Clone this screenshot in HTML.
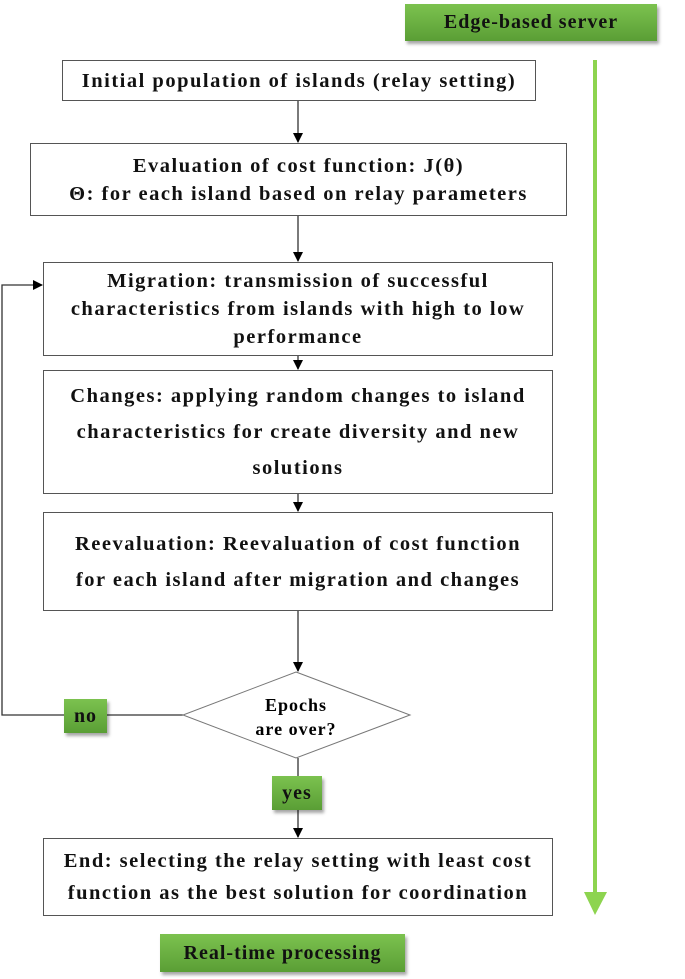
<!DOCTYPE html>
<html><head><style>
body{margin:0;width:685px;height:979px;background:#fff;position:relative;overflow:hidden;font-family:"Liberation Serif",serif;font-weight:bold;color:#111}
.b{position:absolute;border:1px solid #555;background:#fff;display:flex;align-items:center;justify-content:center;text-align:center;font-size:20.5px;letter-spacing:1.5px;line-height:28px;box-sizing:border-box;white-space:nowrap}
.g{position:absolute;background:linear-gradient(#7cc24f,#5a9e35);box-shadow:2px 3px 3px rgba(0,0,0,.35);display:flex;align-items:center;justify-content:center;font-size:20px;letter-spacing:1px;box-sizing:border-box}
</style></head><body>
<svg width="685" height="979" style="position:absolute;left:0;top:0">
<defs><marker id="a" markerWidth="10" markerHeight="10" refX="9" refY="5" orient="auto" markerUnits="userSpaceOnUse"><path d="M0,0L10,5L0,10z" fill="#000"/></marker></defs>
<g stroke="#333" stroke-width="1.3" fill="none">
<line x1="298" y1="100" x2="298" y2="142" marker-end="url(#a)"/>
<line x1="298" y1="215" x2="298" y2="261" marker-end="url(#a)"/>
<line x1="298" y1="355" x2="298" y2="369" marker-end="url(#a)"/>
<line x1="298" y1="493" x2="298" y2="511" marker-end="url(#a)"/>
<line x1="298" y1="610" x2="298" y2="671" marker-end="url(#a)"/>
<line x1="298" y1="758" x2="298" y2="837" marker-end="url(#a)"/>
<polyline points="183,715 2,715 2,285 42,285" marker-end="url(#a)"/>
</g>
<polygon points="296,672 410,715 296,758 183,715" fill="#fff" stroke="#777" stroke-width="1"/>
<text x="296" y="711" text-anchor="middle" font-size="18" letter-spacing="1" font-weight="bold" font-family="Liberation Serif,serif">Epochs</text>
<text x="296" y="735" text-anchor="middle" font-size="18" letter-spacing="1" font-weight="bold" font-family="Liberation Serif,serif">are over?</text>
<line x1="595" y1="60" x2="595" y2="895" stroke="#8dd44f" stroke-width="4"/>
<polygon points="584,892 607,892 595,915" fill="#8dd44f"/>
</svg>
<div class="g" style="left:405px;top:4px;width:252px;height:37px">Edge-based server</div>
<div class="b" style="left:62px;top:60px;width:474px;height:41px">Initial population of islands (relay setting)</div>
<div class="b" style="left:30px;top:143px;width:537px;height:73px">Evaluation of cost function: J(θ)<br>Θ: for each island based on relay parameters</div>
<div class="b" style="left:43px;top:262px;width:510px;height:94px">Migration: transmission of successful<br>characteristics from islands with high to low<br>performance</div>
<div class="b" style="left:43px;top:370px;width:510px;height:124px;line-height:36px">Changes: applying random changes to island<br>characteristics for create diversity and new<br>solutions</div>
<div class="b" style="left:43px;top:512px;width:510px;height:99px;line-height:36px">Reevaluation: Reevaluation of cost function<br>for each island after migration and changes</div>
<div class="g" style="left:64px;top:699px;width:43px;height:34px">no</div>
<div class="g" style="left:272px;top:776px;width:50px;height:34px">yes</div>
<div class="b" style="left:43px;top:838px;width:510px;height:78px;line-height:32px">End: selecting the relay setting with least cost<br>function as the best solution for coordination</div>
<div class="g" style="left:160px;top:934px;width:245px;height:38px">Real-time processing</div>
</body></html>
